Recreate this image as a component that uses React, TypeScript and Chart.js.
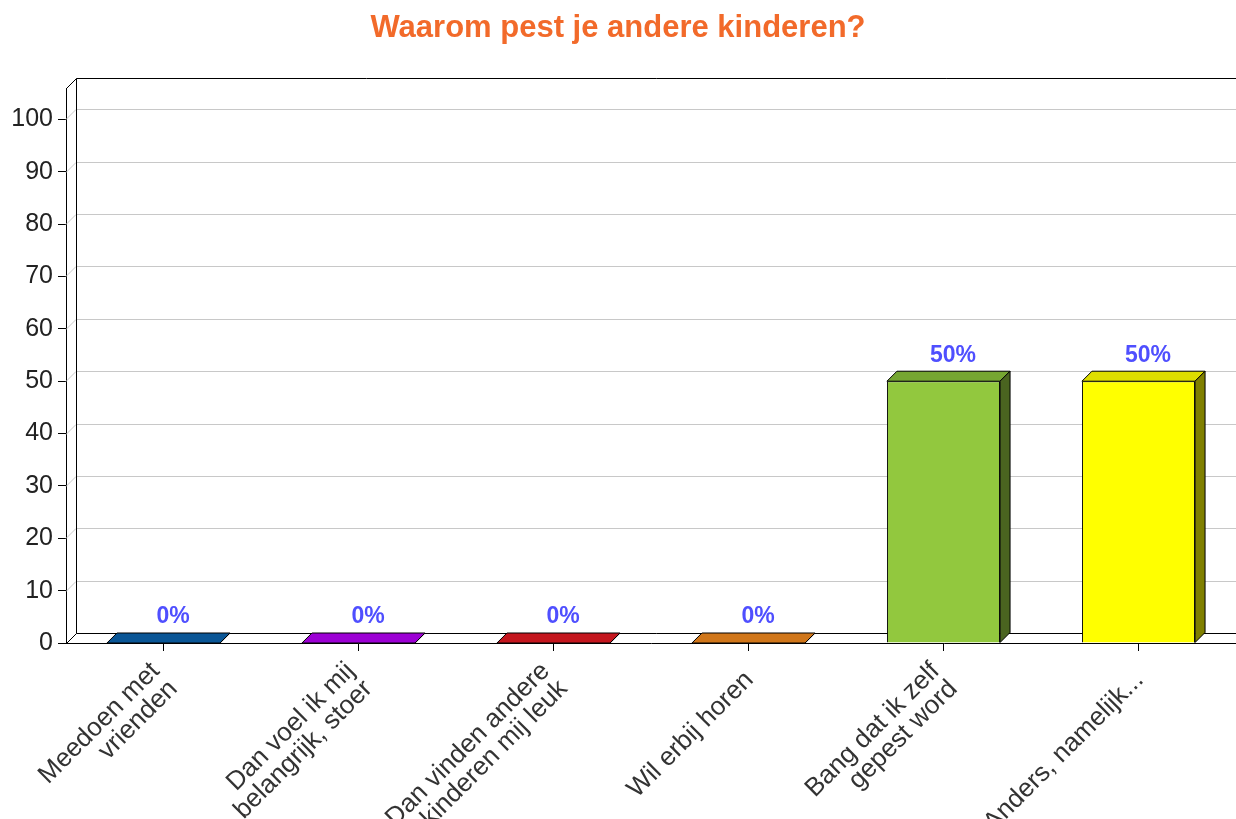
import React, { useEffect, useRef } from "react";
import { Chart, registerables } from "chart.js";

Chart.register(...registerables);

const TITLE = "Waarom pest je andere kinderen?";
const categories: string[][] = [
  ["Meedoen met", "vrienden"],
  ["Dan voel ik mij", "belangrijk, stoer"],
  ["Dan vinden andere", "kinderen mij leuk"],
  ["Wil erbij horen"],
  ["Bang dat ik zelf", "gepest word"],
  ["Anders, namelijk..."],
];
const values = [0, 0, 0, 0, 50, 50];
const valueLabels = ["0%", "0%", "0%", "0%", "50%", "50%"];
const yTickValues = [0, 10, 20, 30, 40, 50, 60, 70, 80, 90, 100];

const frontColors = ["#0b5ea8", "#a600e0", "#d0181f", "#e07e14", "#92c83e", "#ffff00"];
const topColors = ["#0a5696", "#9c00d4", "#c4161e", "#d0761a", "#76a632", "#dede00"];
const sideColors = ["#063a66", "#62008a", "#7e0e12", "#8a4e0e", "#4a6420", "#808000"];

const FONT = "'Liberation Sans', Arial, sans-serif";
const D = 10;
const X_LABEL_SIZE = 26;
const X_LINE_HEIGHT = 25;

const threeD = {
  id: "threeD",
  beforeDatasetsDraw(chart: any) {
    const { ctx, chartArea } = chart;
    const { left, right, top, bottom } = chartArea;
    const y = chart.scales.y;
    ctx.save();
    ctx.strokeStyle = "#c8c8c8";
    ctx.lineWidth = 1;
    for (const v of yTickValues) {
      if (v === 0) continue;
      const py = Math.round(y.getPixelForValue(v)) + 0.5;
      ctx.beginPath();
      ctx.moveTo(left, py);
      ctx.lineTo(left + D, py - D);
      ctx.lineTo(right, py - D);
      ctx.stroke();
    }
    ctx.strokeStyle = "#000";
    ctx.beginPath();
    ctx.moveTo(left + 0.5, top + 0.5);
    ctx.lineTo(left + D + 0.5, top - D + 0.5);
    ctx.lineTo(right, top - D + 0.5);
    ctx.moveTo(left + D + 0.5, top - D + 0.5);
    ctx.lineTo(left + D + 0.5, bottom - D + 0.5);
    ctx.lineTo(right, bottom - D + 0.5);
    ctx.moveTo(left + 0.5, bottom + 0.5);
    ctx.lineTo(left + D + 0.5, bottom - D + 0.5);
    ctx.stroke();
    ctx.restore();
  },
  afterDatasetsDraw(chart: any) {
    const { ctx } = chart;
    const meta = chart.getDatasetMeta(0);
    ctx.save();
    ctx.lineWidth = 1;
    ctx.strokeStyle = "#000";
    meta.data.forEach((bar: any, i: number) => {
      const { x, y, base, width } = bar.getProps(["x", "y", "base", "width"], true);
      const l = x - width / 2;
      const r = x + width / 2;
      ctx.beginPath();
      ctx.moveTo(l, y);
      ctx.lineTo(l + D, y - D);
      ctx.lineTo(r + D, y - D);
      ctx.lineTo(r, y);
      ctx.closePath();
      ctx.fillStyle = topColors[i];
      ctx.fill();
      ctx.stroke();
      ctx.beginPath();
      ctx.moveTo(r, y);
      ctx.lineTo(r + D, y - D);
      ctx.lineTo(r + D, base - D);
      ctx.lineTo(r, base);
      ctx.closePath();
      ctx.fillStyle = sideColors[i];
      ctx.fill();
      ctx.stroke();
      ctx.fillStyle = "#4f4fff";
      ctx.font = `bold 23px ${FONT}`;
      ctx.textAlign = "center";
      ctx.textBaseline = "middle";
      ctx.fillText(valueLabels[i], x + D - 0.5, y - D - 16);
    });
    ctx.restore();
  },
  afterDraw(chart: any) {
    const { ctx, chartArea } = chart;
    const xs = chart.scales.x;
    ctx.save();
    ctx.font = `${X_LABEL_SIZE}px ${FONT}`;
    ctx.fillStyle = "#333";
    ctx.textAlign = "right";
    ctx.textBaseline = "middle";
    categories.forEach((lines, i) => {
      const tx = xs.getPixelForTick(i);
      ctx.save();
      ctx.translate(tx + 1, chartArea.bottom + 33);
      ctx.rotate(-Math.PI / 4);
      const n = lines.length;
      lines.forEach((s, k) => {
        ctx.fillText(s, 0, (k - (n - 1) / 2) * X_LINE_HEIGHT);
      });
      ctx.restore();
    });
    ctx.restore();
  },
};

export default function App() {
  const canvasRef = useRef<HTMLCanvasElement | null>(null);

  useEffect(() => {
    document.body.style.margin = "0";
    const canvas = canvasRef.current;
    if (!canvas) return;
    const chart = new Chart(canvas, {
      type: "bar",
      data: {
        labels: categories,
        datasets: [
          {
            data: values,
            backgroundColor: frontColors,
            borderColor: "#000",
            borderWidth: 1,
            categoryPercentage: 1,
            barPercentage: 0.58,
          },
        ],
      },
      options: {
        responsive: false,
        animation: false,
        layout: { padding: { left: 0, right: 0, top: 0, bottom: 0 } },
        plugins: {
          legend: { display: false },
          tooltip: { enabled: false },
          title: {
            display: true,
            text: TITLE,
            color: "#f26a2a",
            font: { family: FONT, size: 31, weight: "bold" },
            padding: { top: 9.4, bottom: 41.4 },
          },
        },
        scales: {
          x: {
            type: "category",
            offset: true,
            grid: { drawOnChartArea: false, offset: false, tickLength: 8, color: "#000" },
            border: { color: "#000", width: 1 },
            ticks: { display: false },
            afterFit: (s: any) => {
              s.height = 176;
            },
          },
          y: {
            min: 0,
            max: 106,
            grid: { drawOnChartArea: false, tickLength: 8, color: "#000" },
            border: { color: "#000", width: 1 },
            ticks: {
              stepSize: 10,
              padding: 5,
              color: "#222",
              font: { family: FONT, size: 25 },
            },
            afterBuildTicks: (s: any) => {
              s.ticks = yTickValues.map((v) => ({ value: v }));
            },
            afterFit: (s: any) => {
              s.width = 66;
            },
          },
        },
      },
      plugins: [threeD],
    });
    return () => chart.destroy();
  }, []);

  return (
    <div style={{ width: 1236, height: 819, background: "#fff" }}>
      <canvas ref={canvasRef} width={1236} height={819} />
    </div>
  );
}
